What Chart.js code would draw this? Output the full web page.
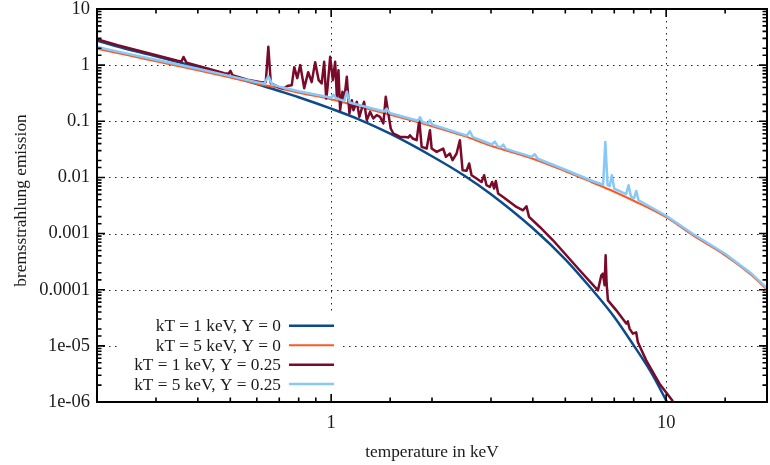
<!DOCTYPE html>
<html>
<head>
<meta charset="utf-8">
<script src="https://cdn.jsdelivr.net/npm/chart.js@4.4.1/dist/chart.umd.min.js"></script>
<style>
  html, body { margin: 0; padding: 0; background: #fff; }
  canvas { display: block; }
</style>
</head>
<body>
<canvas id="chart" width="770" height="465"></canvas>
<script>
// ---- data (energy in keV, emission) ----
const blueX = [0.2, 0.25, 0.3, 0.4, 0.5, 0.6, 0.7, 0.8, 1, 1.2, 1.5, 2, 2.5, 3, 4, 5, 6, 7, 8, 9, 10, 10.5];
const blueY = [2.733, 1.874, 1.435, 0.9175, 0.634, 0.4623, 0.3467, 0.2678, 0.1677, 0.1104, 0.0601, 0.02387,
  0.01072, 0.00502, 0.001243, 0.000348, 1.017e-4, 3.275e-5, 1.021e-5, 3.425e-6, 1.068e-6, 6.09e-7];

const orangeX = [0.2, 0.25, 0.3, 0.4, 0.5, 0.6, 0.7, 0.8, 1, 1.2, 1.5, 2, 2.5, 3, 4, 5, 6, 7, 8, 10, 12, 15, 18, 20];
const orangeY = [1.968, 1.477, 1.169, 0.808, 0.599, 0.468, 0.389, 0.3235, 0.2477, 0.1858, 0.1311, 0.0818,
  0.0543, 0.03673, 0.02154, 0.0129, 0.00821, 0.00556, 0.003842, 0.001953, 0.000933, 0.00041, 0.0001807, 0.0000996];

const darkX = [0.2, 0.2305, 0.2831, 0.3477, 0.3574, 0.3624, 0.3699, 0.399, 0.4272, 0.48,
  0.4935, 0.5003, 0.5072, 0.562, 0.6229, 0.638, 0.6493, 0.6605, 0.7001, 0.7195,
  0.7446, 0.7627, 0.776, 0.792, 0.8086, 0.8311, 0.854, 0.8747, 0.896, 0.9178,
  0.9369, 0.9531, 0.9663, 0.975, 0.9932, 1.0117, 1.0278, 1.0399, 1.0513, 1.0637,
  1.0805, 1.0933, 1.1137, 1.1337, 1.1526, 1.1651, 1.1928, 1.2141, 1.2344, 1.254,
  1.2773, 1.3067, 1.3366, 1.3681, 1.3996, 1.4316, 1.4553, 1.4816, 1.5061, 1.5334,
  1.5695, 1.6054, 1.6614, 1.6995, 1.7193, 1.7515, 1.7999, 1.8323, 1.863, 1.928,
  1.972, 1.9953, 2.0646, 2.1603, 2.2007, 2.2618, 2.304, 2.3684, 2.4225, 2.4675,
  2.536, 2.5822, 2.6249, 2.7164, 2.8113, 2.8619, 2.9092, 2.976, 3.0236, 3.0655,
  3.1011, 3.1508, 3.2606, 3.4135, 3.5744, 3.7393, 3.8282, 3.8969, 4.1953, 4.5951,
  5.5182, 6.2575, 6.4048, 6.4759, 6.5509, 6.5963, 6.642, 6.7019, 7.0989, 7.6018,
  7.6844, 7.775, 7.9524, 8.1393, 8.2298, 8.7178, 9.552, 10.42, 10.8];
const darkY = [2.908, 2.273, 1.65, 1.2, 1.16, 1.40, 1.11, 0.98, 0.87, 0.72,
  0.70, 0.79, 0.665, 0.55, 0.49, 0.50, 2.12, 0.4718, 0.4004, 0.3842,
  0.4311, 0.44, 0.9212, 0.5865, 1.0, 0.389, 0.7502, 0.4977, 1.131, 0.5404,
  0.4718, 1.145, 0.2549, 0.3842, 1.406, 0.5404, 1.145, 0.2722, 0.8145, 0.1577,
  0.3343, 0.2377, 0.6186, 0.1377, 0.2377, 0.1577, 0.2218, 0.1198, 0.1691, 0.2218,
  0.1046, 0.1471, 0.1122, 0.1285, 0.1198, 0.0913, 0.2722, 0.1377, 0.0744, 0.0606,
  0.0565, 0.0527, 0.0527, 0.0514, 0.0565, 0.0494, 0.046, 0.1046, 0.035, 0.0327,
  0.0694, 0.0327, 0.0285, 0.0327, 0.0232, 0.0267, 0.0203, 0.0267, 0.046, 0.01344,
  0.01317, 0.0177, 0.01094, 0.00956, 0.00831, 0.01094, 0.00726, 0.00677, 0.00831, 0.00634,
  0.00866, 0.00516, 0.00449, 0.00366, 0.00298, 0.0026, 0.00307, 0.00198, 0.00131, 0.00076,
  0.000222, 9.76e-5, 0.000181, 0.000194, 0.00012, 0.00041, 0.000128, 6.47e-5, 4.29e-5, 2.49e-5,
  2.73e-5, 2.03e-5, 1.65e-5, 1.74e-5, 1.17e-5, 5.51e-6, 2.12e-6, 1.07e-6, 7e-7];

const lightX = [0.2, 0.25, 0.3, 0.4, 0.5, 0.6, 0.6315, 0.6493, 0.6673, 0.7,
  0.8, 0.9273, 1, 1.0159, 1.0349, 1.0933, 1.1137, 1.1353, 1.2, 1.4385,
  1.4653, 1.4938, 1.8162, 1.8412, 1.873, 1.9453, 1.972, 2.0061, 2.5416, 2.5947,
  2.6485, 3.0173, 3.0799, 3.1442, 3.2095, 3.2651, 3.3213, 3.9702, 4.0524, 4.1365,
  5, 6, 6.4848, 6.5826, 6.6869, 6.7787, 6.8865, 7, 7.5914, 7.7217,
  7.855, 8.0185, 8.1393, 8.27, 10, 12, 15, 18, 20];
const lightY = [2.111, 1.571, 1.243, 0.8593, 0.6366, 0.4977, 0.4682, 0.6366, 0.4493, 0.4137,
  0.3439, 0.2884, 0.2634, 0.2979, 0.2581, 0.2291, 0.337, 0.2154, 0.1976, 0.1489,
  0.1677, 0.1406, 0.1021, 0.1183, 0.0972, 0.091, 0.1046, 0.0866, 0.0556, 0.0666,
  0.0521, 0.0386, 0.0433, 0.0358, 0.0345, 0.0383, 0.0323, 0.0232, 0.0259, 0.0215,
  0.01372, 0.00873, 0.00741, 0.0429, 0.00726, 0.00697, 0.01094, 0.00629, 0.00502, 0.00726,
  0.00453, 0.00426, 0.00575, 0.00392, 0.002077, 0.000992, 0.000437, 0.000192, 0.0001059];

const seriesLabels = ['kT = 1 keV, Y = 0', 'kT = 5 keV, Y = 0', 'kT = 1 keV, Y = 0.25', 'kT = 5 keV, Y = 0.25'];
const seriesColors = ['#0b4b8b', '#fb5a22', '#7a0a29', '#86c9f9'];

// tick labels shown at decades only (gnuplot style)
const yTickLabels = ['1e-06', '1e-05', '0.0001', '0.001', '0.01', '0.1', '1', '10'];
const xTickLabels = { 1: '1', 10: '10' };

const FONT = '"Liberation Serif", "Times New Roman", serif';
const TEXT = '#1a1a1a';

const toPoints = (xs, ys) => xs.map((x, i) => ({ x: x, y: ys[i] }));
const isDecade = v => Math.abs(Math.log10(v) - Math.round(Math.log10(v))) < 1e-6;

// ---- grid, key box, frame with mirrored inward ticks, axis titles ----
const gnuplotFrame = {
  id: 'gnuplotFrame',
  beforeDatasetsDraw(chart) {
    const { ctx, chartArea: a, scales: { x, y } } = chart;
    ctx.save();
    ctx.strokeStyle = '#222';
    ctx.lineWidth = 1;
    ctx.setLineDash([1.5, 4.5]);
    x.ticks.forEach(t => {
      if (!isDecade(t.value)) return;
      const px = Math.round(x.getPixelForValue(t.value)) + 0.5;
      if (px <= a.left + 2 || px >= a.right - 2) return;
      ctx.beginPath(); ctx.moveTo(px, a.top); ctx.lineTo(px, a.bottom); ctx.stroke();
    });
    y.ticks.forEach(t => {
      if (!isDecade(t.value)) return;
      const py = Math.round(y.getPixelForValue(t.value)) + 0.5;
      if (py <= a.top + 2 || py >= a.bottom - 2) return;
      ctx.beginPath(); ctx.moveTo(a.left, py); ctx.lineTo(a.right, py); ctx.stroke();
    });
    ctx.setLineDash([]);

    // key (opaque box, right aligned text, sample line)
    ctx.fillStyle = '#fff';
    ctx.fillRect(120, 315, 221, a.bottom - 315);
    ctx.font = '17.3px ' + FONT;
    ctx.fillStyle = TEXT;
    ctx.textAlign = 'right';
    ctx.textBaseline = 'middle';
    const rows = [325.7, 345.3, 364.7, 384];
    seriesLabels.forEach((lab, i) => {
      ctx.fillText(lab, 281, rows[i] + 1);
      ctx.strokeStyle = seriesColors[i];
      ctx.lineWidth = i === 1 ? 2 : 2.5;
      ctx.beginPath(); ctx.moveTo(289, rows[i]); ctx.lineTo(334, rows[i]); ctx.stroke();
    });
    ctx.restore();
  },
  afterDatasetsDraw(chart) {
    const { ctx, chartArea: a, scales: { x, y } } = chart;
    ctx.save();
    ctx.strokeStyle = '#000';
    ctx.lineWidth = 2;
    ctx.strokeRect(a.left, a.top, a.right - a.left, a.bottom - a.top);
    ctx.lineWidth = 1.6;
    x.ticks.forEach(t => {
      const len = isDecade(t.value) ? 8 : 4.5;
      const px = x.getPixelForValue(t.value);
      ctx.beginPath();
      ctx.moveTo(px, a.bottom); ctx.lineTo(px, a.bottom - len);
      ctx.moveTo(px, a.top); ctx.lineTo(px, a.top + len);
      ctx.stroke();
    });
    y.ticks.forEach(t => {
      const len = isDecade(t.value) ? 8 : 4.5;
      const py = y.getPixelForValue(t.value);
      ctx.beginPath();
      ctx.moveTo(a.left, py); ctx.lineTo(a.left + len, py);
      ctx.moveTo(a.right, py); ctx.lineTo(a.right - len, py);
      ctx.stroke();
    });

    // axis titles
    ctx.font = '17.3px ' + FONT;
    ctx.fillStyle = TEXT;
    ctx.textAlign = 'center';
    ctx.textBaseline = 'middle';
    ctx.fillText('temperature in keV', (a.left + a.right) / 2, 452);
    ctx.translate(21, 200.5);
    ctx.rotate(-Math.PI / 2);
    ctx.fillText('bremsstrahlung emission', 0, 0);
    ctx.restore();
  }
};

const lineSet = (i, xs, ys, smooth, order) => ({
  label: seriesLabels[i],
  data: toPoints(xs, ys),
  borderColor: seriesColors[i],
  borderWidth: i === 1 ? 2 : 2.5,
  borderJoinStyle: 'round',
  pointRadius: 0,
  tension: 0,
  cubicInterpolationMode: smooth ? 'monotone' : 'default',
  order: order
});

new Chart(document.getElementById('chart'), {
  type: 'line',
  data: {
    datasets: [
      lineSet(0, blueX, blueY, true, 4),
      lineSet(1, orangeX, orangeY, true, 3),
      lineSet(2, darkX, darkY, false, 2),
      lineSet(3, lightX, lightY, false, 1)
    ]
  },
  options: {
    responsive: false,
    animation: false,
    devicePixelRatio: 1,
    layout: { padding: { top: 9, right: 3, left: 0, bottom: 0 } },
    plugins: { legend: { display: false }, tooltip: { enabled: false } },
    scales: {
      x: {
        type: 'logarithmic',
        min: 0.2,
        max: 20,
        grid: { display: false, drawTicks: false, tickLength: 0 },
        border: { display: false },
        ticks: {
          autoSkip: false,
          maxRotation: 0,
          minRotation: 0,
          padding: 9.6,
          color: TEXT,
          font: { family: FONT, size: 18.5 },
          callback: v => xTickLabels[Math.round(v * 1000) / 1000] || ''
        },
        afterFit: s => { s.height = 63; s.paddingLeft = 0; s.paddingRight = 0; }
      },
      y: {
        type: 'logarithmic',
        min: 1e-6,
        max: 10,
        grid: { display: false, drawTicks: false, tickLength: 0 },
        border: { display: false },
        ticks: {
          autoSkip: false,
          padding: 7,
          color: TEXT,
          font: { family: FONT, size: 18.5 },
          callback: v => isDecade(v) ? yTickLabels[Math.round(Math.log10(v)) + 6] : ''
        },
        afterFit: s => { s.width = 97; s.paddingTop = 0; s.paddingBottom = 0; }
      }
    }
  },
  plugins: [gnuplotFrame]
});
</script>
</body>
</html>
